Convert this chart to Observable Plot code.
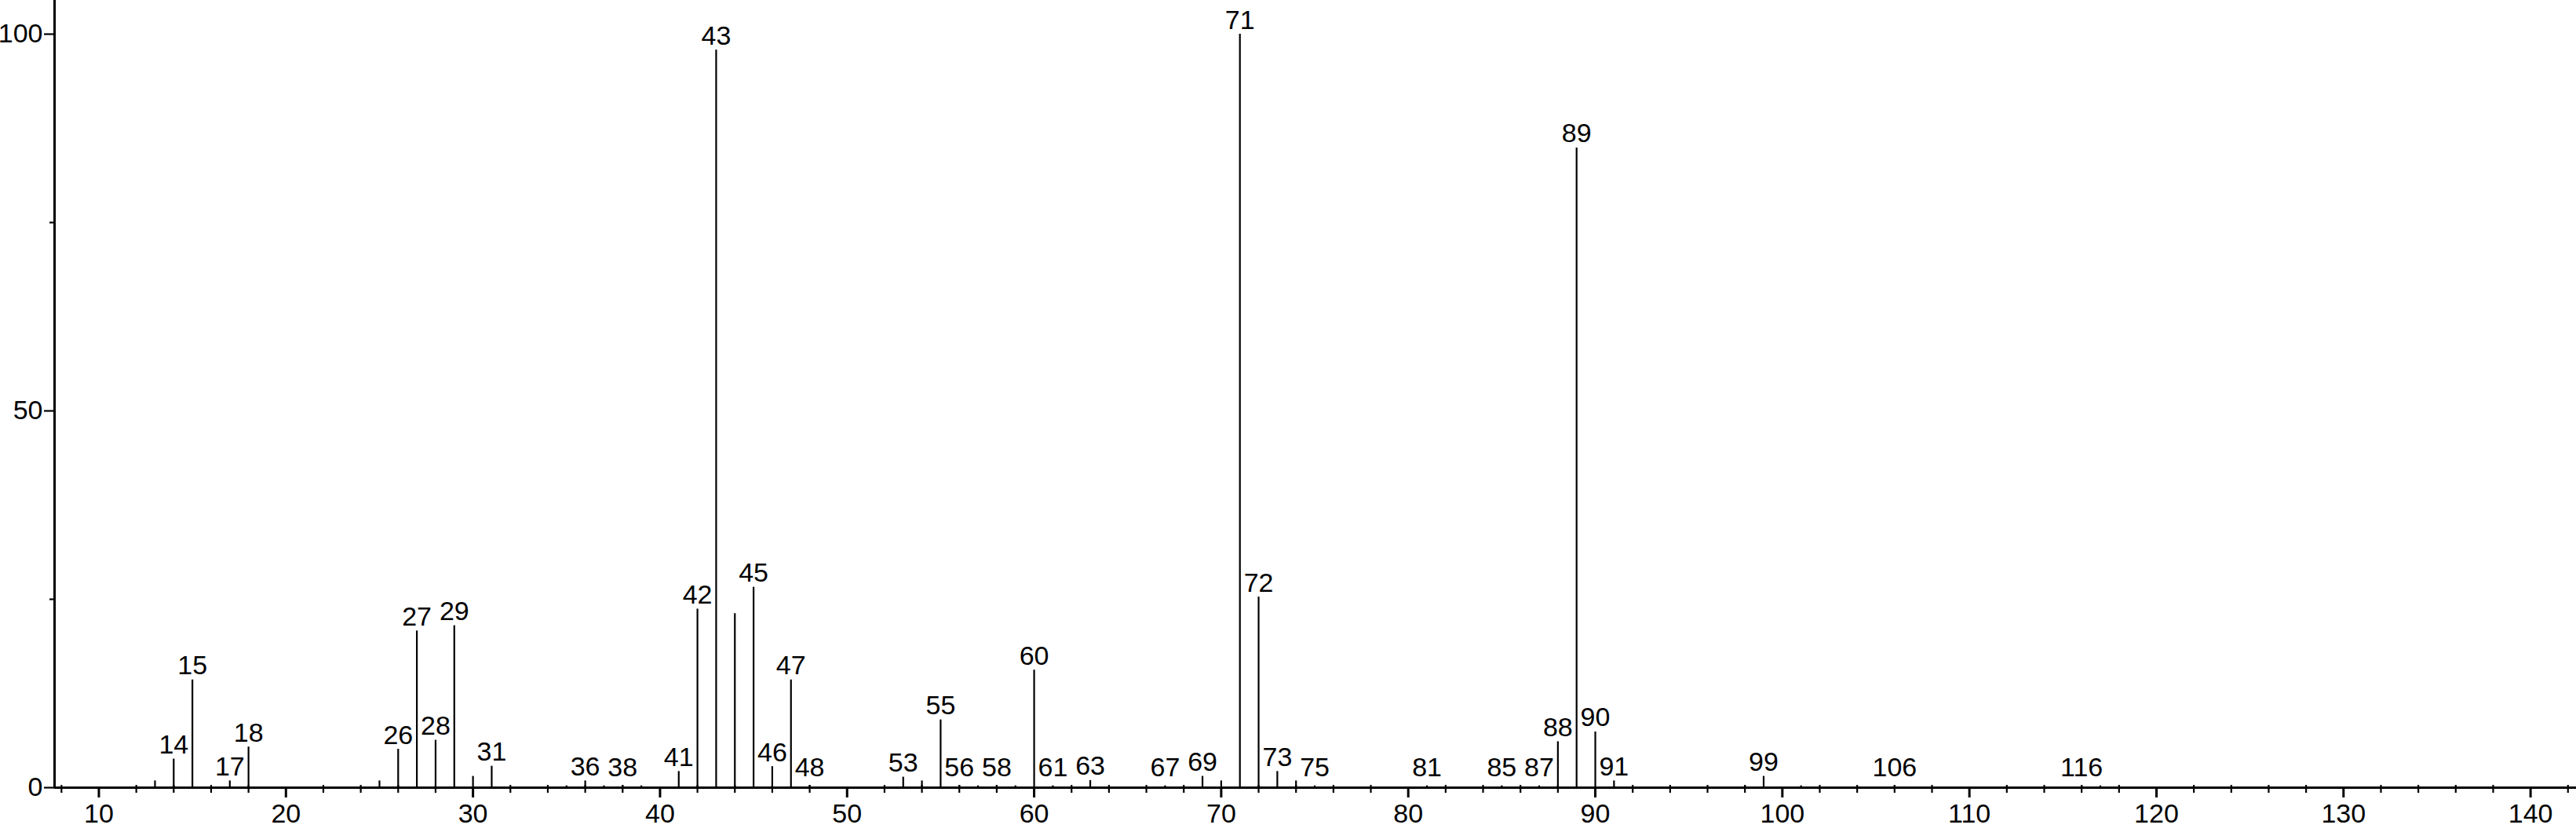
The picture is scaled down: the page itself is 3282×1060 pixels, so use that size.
<!DOCTYPE html>
<html>
<head>
<meta charset="utf-8">
<script src="https://cdn.jsdelivr.net/npm/d3@7"></script>
<script src="https://cdn.jsdelivr.net/npm/@observablehq/plot@0.6"></script>
<style>
  html, body { margin: 0; padding: 0; background: #fff; }
  #chart svg { display: block; }
</style>
</head>
<body>
<div id="chart"></div>
<script>
// m/z values of the peaks
const mz = [13, 14, 15, 17, 18, 25, 26, 27, 28, 29, 30, 31, 35, 36, 37, 38, 39, 41, 42, 43, 44, 45, 46, 47, 48,
            53, 54, 55, 56, 57, 58, 59, 60, 61, 63, 67, 69, 70, 71, 72, 73, 74, 75, 81, 85, 87, 88, 89, 90, 91,
            98, 99, 101, 106, 116, 117];
// relative intensities (%)
const intensity = [0.9, 3.8, 14.3, 0.9, 5.4, 0.9, 5.1, 20.8, 6.3, 21.5, 1.5, 2.85, 0.25, 0.9, 0.25, 0.3, 0.25, 2.15, 23.7, 97.9, 23.1, 26.6, 2.8, 14.3, 0.3,
                   1.4, 0.9, 9.0, 0.3, 0.25, 0.3, 0.25, 15.6, 0.25, 0.95, 0.25, 1.5, 0.9, 100, 25.3, 2.15, 0.9, 0.25, 0.25, 0.25, 0.25, 6.1, 84.9, 7.4, 0.9,
                   0.25, 1.5, 0.25, 0.3, 0.3, 0.25];
// peaks that carry a label
const labeledPeaks = [14, 15, 17, 18, 26, 27, 28, 29, 31, 36, 38, 41, 42, 43, 45, 46, 47, 48, 53, 55, 56, 58, 60, 61, 63,
                      67, 69, 71, 72, 73, 75, 81, 85, 87, 88, 89, 90, 91, 99, 106, 116];
// axis ticks
const xMajorTicks = [10, 20, 30, 40, 50, 60, 70, 80, 90, 100, 110, 120, 130, 140];
const xMinorTicks = d3.range(8, 143, 2).filter(v => v % 10 !== 0);
const yMajorTicks = [0, 50, 100];
const yMinorTicks = [25, 75];
const xDomain = [7.63, 142.45];
const yDomain = [0, 104.48];

const peaks = mz.map((m, i) => ({mz: m, int: intensity[i]}));
const labels = peaks.filter(d => labeledPeaks.includes(d.mz));

const font = "'Liberation Sans', Arial, Helvetica, sans-serif";

const chart = Plot.plot({
  width: 3282,
  height: 1060,
  marginLeft: 69,
  marginRight: 0,
  marginTop: 0,
  marginBottom: 57,
  style: {fontFamily: font, fontSize: "34px", color: "#000", background: "#fff", overflow: "visible"},
  x: {domain: xDomain},
  y: {domain: yDomain},
  marks: [
    // peaks
    Plot.ruleX(peaks, {x: "mz", y: "int", stroke: "#000", strokeWidth: 2.2}),
    // peak labels
    Plot.text(labels, {
      x: "mz",
      y: d => Math.max(d.int, 0.75),
      text: d => String(d.mz),
      lineAnchor: "bottom",
      dy: -7,
      fontSize: 34,
      fill: "#000"
    }),
    // x minor ticks
    Plot.ruleX(xMinorTicks, {x: d => d, y1: 0, y2: 0, insetTop: -3, insetBottom: -7, stroke: "#000", strokeWidth: 2.2}),
    // x major ticks + labels
    Plot.axisX({ticks: xMajorTicks, tickSize: 13, tickPadding: 7, tickFormat: d => String(d),
                stroke: "#000", strokeWidth: 3, fontSize: 34, fill: "#000", label: null}),
    // y minor ticks
    Plot.axisY({ticks: yMinorTicks, tickSize: 6, tickFormat: () => "", stroke: "#000", strokeWidth: 2.2, label: null}),
    // y major ticks + labels
    Plot.axisY({ticks: yMajorTicks, tickSize: 13, tickPadding: 2, tickFormat: d => String(d),
                stroke: "#000", strokeWidth: 2.2, fontSize: 34, fill: "#000", label: null}),
    // axis lines
    Plot.ruleY([0], {stroke: "#000", strokeWidth: 3}),
    Plot.ruleX([xDomain[0]], {stroke: "#000", strokeWidth: 3})
  ]
});
document.getElementById("chart").appendChild(chart);
</script>
</body>
</html>
